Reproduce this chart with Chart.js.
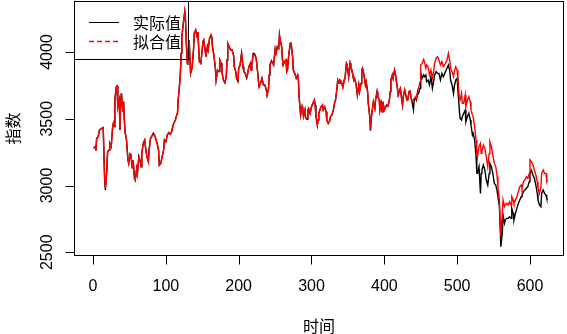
<!DOCTYPE html>
<html>
<head>
<meta charset="utf-8">
<script src="https://cdn.jsdelivr.net/npm/chart.js"></script>
<style>
  body { margin: 0; background: #fff; }
  canvas { display: block; }
</style>
</head>
<body>
<canvas id="myChart" width="567" height="334"></canvas>
<script>
// time index
const time = [
  1,3,4,5,7,9,12,14,16,17,
  19,20,22,23,25,27,28,29,30,32,
  33,34,36,37,38,39,41,42,43,44,
  46,48,49,51,52,54,55,57,58,60,
  61,63,65,66,67,69,71,72,74,76,
  77,79,82,83,85,88,90,91,93,95,
  97,98,100,102,104,106,108,110,113,115,
  116,117,119,120,121,122,124,126,127,129,
  130,131,132,134,136,138,139,141,143,144,
  146,148,149,151,152,154,155,157,158,160,
  162,163,164,166,168,169,171,173,174,176,
  177,179,181,183,184,185,187,189,191,193,
  194,196,197,199,200,202,204,206,207,209,
  211,212,214,216,217,218,220,222,224,226,
  227,228,230,232,234,236,238,239,241,242,
  243,245,247,248,250,251,253,255,256,257,
  259,260,261,263,265,266,267,269,271,272,
  274,275,277,279,281,282,283,285,287,288,
  289,291,292,294,295,296,298,300,302,304,
  305,306,308,309,310,313,315,316,318,320,
  321,323,325,326,328,330,332,333,335,336,
  338,339,341,343,345,346,348,349,351,353,
  354,356,358,359,361,363,365,366,368,369,
  370,372,374,375,377,378,380,381,382,384,
  385,387,388,390,391,393,394,396,397,398,
  400,402,403,405,407,408,409,411,412,414,
  415,417,418,419,421,422,424,425,426,428,
  429,431,432,434,435,437,438,440,441,443,
  444,446,447,449,450,452,454,455,457,458,
  460,462,464,466,468,469,471,473,475,477,
  479,481,484,486,488,490,491,493,495,496,
  498,500,501,503,504,506,507,509,511,512,
  514,516,518,519,521,522,524,526,527,528,
  530,532,533,534,536,538,540,542,544,545,
  547,549,551,553,555,556,558,559,560,562,
  563,565,566,568,570,572,574,575,577,578,
  580,582,584,586,588,589,591,593,595,597,
  599,600,602,604,606,608,610,611,613,615,
  616,618,620,622,623,624
]

// 实际值
const actual = [
  3278,3291,3261,3353,3366,3416,3428,3433,3041,2966,
  3116,3253,3266,3316,3291,3441,3466,3441,3640,3740,
  3745,3590,3640,3416,3640,3690,3553,3628,3491,3403,
  3341,3191,3166,3236,3228,3128,3191,3054,3041,3128,
  3091,3216,3178,3141,3241,3316,3341,3291,3216,3178,
  3266,3353,3385,3392,3371,3316,3266,3153,3166,3216,
  3266,3341,3328,3378,3396,3383,3403,3453,3491,3528,
  3541,3640,3765,3840,3990,4115,4215,4302,4240,3940,
  3903,4015,4090,3840,3880,4015,4140,4165,4110,4150,
  3930,3915,3965,4077,4090,4015,3965,4040,4015,4102,
  4127,4115,4040,3977,3878,3790,3865,3853,3940,3915,
  3853,3790,3770,3815,3940,4065,4040,4015,4015,3977,
  3890,3853,3803,3780,3878,3903,3990,3890,3853,3840,
  3805,3828,3890,3915,3865,3903,3990,3985,3953,3853,
  3790,3740,3765,3803,3753,3753,3715,3678,3728,3828,
  3903,3935,3915,3903,4015,3977,4040,4027,4127,4090,
  4040,3953,3903,3928,3940,3853,3865,3990,4065,4065,
  3965,3865,3840,3803,3828,3790,3665,3528,3590,3565,
  3516,3565,3503,3495,3565,3578,3540,3590,3615,3640,
  3603,3528,3453,3491,3541,3590,3603,3565,3590,3553,
  3491,3466,3486,3516,3528,3565,3628,3640,3728,3790,
  3765,3790,3778,3735,3790,3803,3915,3903,3815,3915,
  3890,3853,3790,3803,3765,3678,3753,3703,3765,3865,
  3878,3828,3753,3778,3703,3615,3516,3410,3503,3590,
  3628,3578,3640,3703,3665,3640,3565,3615,3553,3628,
  3565,3590,3603,3595,3640,3703,3790,3828,3803,3865,
  3840,3765,3728,3678,3715,3728,3640,3603,3665,3715,
  3690,3640,3640,3703,3715,3653,3628,3566,3640,3653,
  3640,3703,3690,3728,3840,3803,3828,3815,3828,3778,
  3790,3753,3815,3728,3790,3828,3853,3840,3840,3790,
  3840,3815,3853,3878,3903,3853,3790,3753,3690,3740,
  3790,3803,3715,3565,3503,3491,3516,3541,3565,3478,
  3516,3541,3491,3453,3378,3391,3341,3216,3091,3091,
  3141,2941,3091,3116,3153,3116,3041,3004,3091,3166,
  3141,3091,3016,3004,2954,2916,2841,2691,2542,2642,
  2779,2717,2741,2754,2754,2766,2754,2829,2791,2741,
  2791,2829,2866,2891,2916,2929,2954,2966,2979,2991,
  3029,3091,3116,3079,3054,3004,2941,2891,2854,2841,
  2941,2966,2941,2929,2904,2891
]

// 拟合值
const fitted = [
  3278,3291,3261,3353,3366,3416,3428,3433,3041,2980,
  3116,3253,3266,3316,3291,3441,3466,3441,3640,3740,
  3745,3590,3640,3416,3640,3690,3553,3628,3491,3403,
  3341,3191,3166,3236,3228,3128,3191,3054,3041,3128,
  3091,3216,3178,3141,3241,3316,3341,3291,3216,3178,
  3266,3353,3378,3383,3371,3316,3266,3153,3166,3216,
  3266,3341,3328,3378,3396,3383,3403,3453,3491,3528,
  3541,3640,3765,3840,3990,4115,4215,4302,4240,3940,
  3903,4015,4090,3840,3880,4015,4140,4165,4110,4150,
  3930,3915,3965,4077,4090,4015,3965,4040,4015,4102,
  4127,4115,4040,3977,3878,3790,3865,3853,3940,3915,
  3853,3790,3770,3815,3940,4065,4040,4015,4015,3977,
  3890,3853,3803,3790,3878,3903,3990,3890,3853,3840,
  3815,3828,3890,3915,3865,3903,3977,3977,3953,3853,
  3790,3740,3765,3803,3753,3753,3715,3678,3728,3828,
  3903,3928,3915,3903,4015,3977,4040,4027,4127,4090,
  4040,3953,3903,3928,3940,3853,3865,3990,4065,4065,
  3965,3865,3840,3803,3828,3790,3665,3528,3590,3565,
  3516,3565,3503,3503,3565,3578,3540,3590,3615,3640,
  3603,3528,3453,3491,3541,3590,3603,3565,3590,3553,
  3491,3466,3486,3516,3528,3565,3628,3640,3728,3790,
  3765,3790,3778,3735,3790,3803,3915,3903,3815,3915,
  3890,3853,3790,3803,3765,3678,3753,3703,3765,3865,
  3878,3828,3753,3778,3703,3615,3516,3416,3503,3590,
  3628,3578,3640,3703,3665,3640,3565,3615,3553,3628,
  3565,3590,3603,3595,3640,3703,3790,3828,3803,3865,
  3840,3765,3728,3678,3715,3728,3640,3603,3665,3715,
  3690,3640,3640,3703,3715,3653,3628,3640,3653,3665,
  3653,3715,3728,3778,3903,3915,3945,3928,3878,3903,
  3890,3828,3865,3803,3865,3915,3953,3965,3940,3903,
  3928,3890,3915,3940,3990,3928,3878,3853,3815,3853,
  3890,3865,3790,3653,3640,3690,3615,3615,3678,3590,
  3640,3665,3628,3565,3528,3516,3441,3341,3241,3216,
  3291,3316,3241,3253,3303,3278,3216,3141,3241,3328,
  3291,3228,3166,3141,3066,2991,2891,2741,2620,2791,
  2891,2841,2854,2866,2854,2879,2854,2916,2891,2866,
  2891,2916,2954,2991,3004,2979,3029,3041,3066,3054,
  3091,3191,3178,3153,3116,3079,3029,2979,2941,2991,
  3091,3116,3091,3091,3029,3041
]

const xTicks = [0, 100, 200, 300, 400, 500, 600]
const yTicks = [2500, 3000, 3500, 4000]

// R style box, axes, titles and legend
const rAxes = {
  id: 'rAxes',
  afterDraw(chart) {
    const c = chart.ctx
    const a = chart.chartArea
    const x = chart.scales.x, y = chart.scales.y
    const L = Math.round(a.left) + 0.5, R = Math.round(a.right) - 0.5
    const T = Math.round(a.top) + 0.5, B = Math.round(a.bottom) - 0.5
    c.save()
    c.strokeStyle = '#000'
    c.fillStyle = '#000'
    c.lineWidth = 1
    c.strokeRect(L, T, R - L, B - T)

    // x axis
    c.beginPath()
    c.moveTo(x.getPixelForValue(xTicks[0]), B)
    c.lineTo(x.getPixelForValue(xTicks[xTicks.length - 1]), B)
    xTicks.forEach(t => {
      const px = Math.round(x.getPixelForValue(t)) + 0.5
      c.moveTo(px, B)
      c.lineTo(px, B + 9)
    })
    // y axis
    c.moveTo(L, y.getPixelForValue(yTicks[0]))
    c.lineTo(L, y.getPixelForValue(yTicks[yTicks.length - 1]))
    yTicks.forEach(t => {
      const py = Math.round(y.getPixelForValue(t)) + 0.5
      c.moveTo(L, py)
      c.lineTo(L - 9, py)
    })
    c.stroke()

    c.font = '16px "Liberation Sans", Arial, sans-serif'
    c.textAlign = 'center'
    c.textBaseline = 'middle'
    xTicks.forEach(t => c.fillText(String(t), x.getPixelForValue(t), 287))
    yTicks.forEach(t => {
      c.save()
      c.translate(48, y.getPixelForValue(t))
      c.rotate(-Math.PI / 2)
      c.fillText(String(t), 0, 0)
      c.restore()
    })

    c.font = '16px "Noto Sans CJK SC", sans-serif'
    c.fillText('时间', (a.left + a.right) / 2, 326)
    c.save()
    c.translate(13, (a.top + a.bottom) / 2)
    c.rotate(-Math.PI / 2)
    c.fillText('指数', 0, 0)
    c.restore()

    // legend
    c.strokeRect(L, T, 114, 58)
    c.beginPath()
    c.moveTo(89, 22.5)
    c.lineTo(119, 22.5)
    c.stroke()
    c.beginPath()
    c.strokeStyle = 'rgb(255,0,0)'
    c.lineWidth = 1.3
    c.setLineDash([5, 3])
    c.moveTo(89, 41.5)
    c.lineTo(119, 41.5)
    c.stroke()
    c.setLineDash([])
    c.textAlign = 'left'
    c.fillText('实际值', 133, 23)
    c.fillText('拟合值', 133, 42)
    c.restore()
  }
}

const ctx = document.getElementById('myChart')

new Chart(ctx, {
  type: 'line',
  data: {
    datasets: [{
      label: '实际值',
      data: time.map((t, i) => ({x: t, y: actual[i]})),
      borderColor: '#000000',
      borderWidth: 1.4,
      pointRadius: 0,
      tension: 0,
      order: 2
    }, {
      label: '拟合值',
      data: time.map((t, i) => ({x: t, y: fitted[i]})),
      borderColor: '#ff0000',
      borderWidth: 1.4,
      pointRadius: 0,
      tension: 0,
      order: 1
    }]
  },
  options: {
    responsive: false,
    animation: false,
    devicePixelRatio: 1,
    layout: { padding: { left: 74, right: 3, top: 1, bottom: 78 } },
    plugins: { legend: { display: false }, tooltip: { enabled: false } },
    scales: {
      x: { type: 'linear', min: -26.1, max: 646.7, display: false },
      y: { min: 2472, max: 4382, display: false }
    }
  },
  plugins: [rAxes]
})
</script>
</body>
</html>
